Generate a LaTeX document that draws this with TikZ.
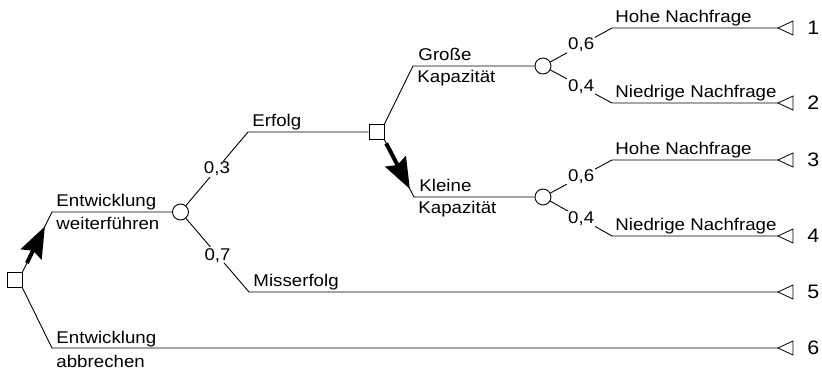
\documentclass[tikz,border=0pt]{standalone}
\usepackage{fontspec}
\setmainfont[FakeStretch=1.1]{Liberation Sans}
\usetikzlibrary{calc,arrows.meta}

\begin{document}
\begin{tikzpicture}[x=1pt,y=-1pt,line width=0.9pt,
  every node/.style={font=\fontsize{17}{20}\selectfont},
  decision/.style={draw,rectangle,minimum size=15pt,inner sep=0},
  chance/.style={draw,circle,minimum size=16pt,inner sep=0},
  prob/.style={fill=white,inner sep=1pt},
  lbl/.style={anchor=base west,inner sep=0},
  outcome/.style={anchor=base west,inner sep=0,font=\fontsize{19.5}{22}\selectfont},
  chosen/.style={line width=4pt,-{Stealth[length=31pt,width=23pt,inset=4pt]}}]
\useasboundingbox (0,0) rectangle (822,371);
% knots
\node [decision] (root) at (14.5,280) {};
\node [chance] (c1) at (180.5,212) {};
\node [decision] (sq2) at (376.5,132) {};
\node [chance] (c3) at (543,66) {};
\node [chance] (c4) at (543,197) {};
\coordinate (a1) at (52,212);
\coordinate (a6) at (52,348);
\coordinate (b1) at (248,132);
\coordinate (b5) at (249,292);
\coordinate (d1) at (413,66);
\coordinate (d2) at (414,197);
\coordinate (e1) at (612,28);
\coordinate (e2) at (612,103);
\coordinate (e3) at (612,160);
\coordinate (e4) at (612,236);
\foreach \i/\y in {1/28,2/103,3/160,4/236,5/292,6/348}
  \coordinate (t\i) at (778,\y);
% branches
\draw (root.north east) -- (a1) -- (c1);
\draw (root.south east) -- (a6) -- (t6);
\draw (c1) -- node[prob]{0,3} (b1) -- (sq2);
\draw (c1) -- node[prob]{0,7} (b5) -- (t5);
\draw (sq2.north east) -- (d1) -- (c3);
\draw (sq2.south east) -- (d2) -- (c4);
\draw (c3) -- node[prob]{0,6} (e1) -- (t1);
\draw (c3) -- node[prob]{0,4} (e2) -- (t2);
\draw (c4) -- node[prob]{0,6} (e3) -- (t3);
\draw (c4) -- node[prob]{0,4} (e4) -- (t4);
% chosen path
\draw [chosen] ($(root.north east)!0.15!(a1)$) -- ($(root.north east)!0.76!(a1)$);
\draw [chosen] ($(sq2.south east)!0.06!(d2)$) -- ($(sq2.south east)!0.86!(d2)$);
% end points
\foreach \i in {1,...,6} {
  \draw [line width=0.8pt] (t\i) -- ++(15,-7) -- ++(0,14) -- cycle;
  \node [outcome] (n\i) at ($(t\i)+(29,7)$) {\i};
}
% labels
\node [lbl] (w1) at ($(a1)+(4,-5)$) {Entwicklung};
\node [lbl] (w2) at ($(a1)+(4,18)$) {weiterführen};
\node [lbl] (ab1) at ($(a6)+(4,-5)$) {Entwicklung};
\node [lbl] (ab2) at ($(a6)+(4,19)$) {abbrechen};
\node [lbl] (erf) at ($(b1)+(4,-5)$) {Erfolg};
\node [lbl] (mis) at ($(b5)+(4,-5)$) {Misserfolg};
\node [lbl] (gr1) at ($(d1)+(5,-5)$) {Große};
\node [lbl] (gr2) at ($(d1)+(4,17)$) {Kapazität};
\node [lbl] (kl1) at ($(d2)+(5,-5)$) {Kleine};
\node [lbl] (kl2) at ($(d2)+(4,17)$) {Kapazität};
\node [lbl] (h1) at ($(e1)+(3,-5)$) {Hohe Nachfrage};
\node [lbl] (n2a) at ($(e2)+(3,-5)$) {Niedrige Nachfrage};
\node [lbl] (h3) at ($(e3)+(3,-5)$) {Hohe Nachfrage};
\node [lbl] (n4a) at ($(e4)+(3,-5)$) {Niedrige Nachfrage};
\end{tikzpicture}
\end{document}
